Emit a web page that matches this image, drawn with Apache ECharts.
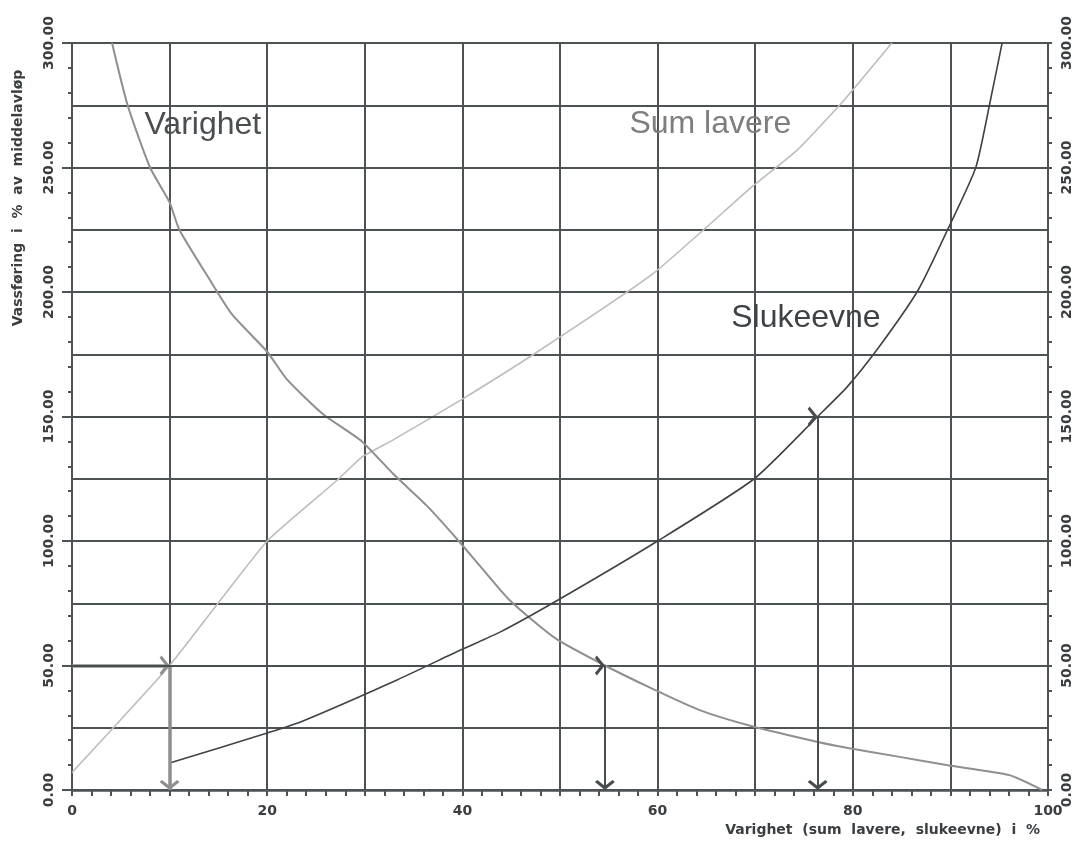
<!DOCTYPE html>
<html>
<head>
<meta charset="utf-8">
<script src="https://cdn.jsdelivr.net/npm/echarts@6/dist/echarts.min.js"></script>
<style>
  html, body { margin: 0; padding: 0; background: #fff; }
  #chart { width: 1078px; height: 844px; }
</style>
</head>
<body>
<div id="chart"></div>
<script>
// Duration curve (Varighet), accumulated flow (Sum lavere) and capacity (Slukeevne)
const varighetX = [4.1, 5.7, 8.0, 10.0, 11.0, 14.1, 16.4, 20.0, 22.0, 25.7, 29.7, 32.9, 36.4, 39.4, 41.8, 44.9, 49.5, 54.6, 59.5, 64.3, 69.6, 76.3, 79.5, 84.8, 89.6, 96.0, 99.4];
const varighetY = [300, 275, 250, 236, 225, 205, 191, 176, 165, 151, 140, 127, 114, 101, 90, 76, 61, 50, 40.6, 32.1, 25.7, 19.4, 16.9, 13.3, 10, 6, 0];

const sumLavereX = [0, 10, 20, 27.2, 29.7, 32.9, 40, 47.5, 59.6, 69.6, 74.3, 79.1, 84];
const sumLavereY = [7, 50, 100, 124.5, 133.7, 140.6, 157, 175.5, 207.6, 242, 257, 277, 300];

const slukeevneX = [10.0, 20.0, 23.4, 33.3, 39.8, 43.9, 49.8, 60.0, 69.9, 76.4, 79.4, 82.7, 86.7, 89.7, 92.6, 94.1, 95.3];
const slukeevneY = [10.8, 22.9, 27.3, 44.2, 56.2, 63.5, 76.3, 100, 125, 150, 161.8, 178, 200.8, 224.9, 250, 277, 300];

// Reading guides: flow level -> duration
const guideX = [10, 54.6, 76.4];
const guideY = [50, 50, 150];
const guideColor = ['#8e8e8e', '#474c4f', '#474c4f'];
const guideWidth = [3.5, 2, 2];

// Curve captions
const captionText = ['Varighet', 'Sum lavere', 'Slukeevne'];
const captionX = [13.4, 65.4, 75.2];
const captionY = [267, 267.5, 189.6];
const captionColor = ['#4a4e51', '#7e7e7e', '#3e4245'];

const xName = 'Varighet  (sum  lavere,  slukeevne)  i  %';
const yName = 'Vassføring  i  %  av  middelavløp';

const gridColor = '#4d5255';

const zip = (xs, ys) => xs.map((x, i) => [x, ys[i]]);

// open chevron; the leading move-to keeps the tip at the symbol centre
const chevron = 'path://M10,-12.5 M0,10 L10,0 L20,10 L17.6,12.4 L10,4.8 L2.4,12.4 Z';

const guideLines = [];
guideX.forEach((gx, i) => {
  const gy = guideY[i];
  const style = { color: guideColor[i], width: guideWidth[i], opacity: 1, curveness: 0 };
  guideLines.push({ coords: [[0, gy], [gx, gy]], lineStyle: style });
  guideLines.push({ coords: [[gx, gy], [gx, 0]], lineStyle: style });
});

const chart = echarts.init(document.getElementById('chart'), null, { renderer: 'canvas' });

const yLabelBase = {
  rotate: 90,
  color: '#3a3e41',
  fontFamily: 'DejaVu Sans',
  fontWeight: 'bold',
  fontSize: 14,
  formatter: v => v.toFixed(2)
};

chart.setOption({
  animation: false,
  backgroundColor: '#ffffff',
  grid: { left: 72, right: 30, top: 43, bottom: 54, containLabel: false },
  xAxis: [
    {
      type: 'value', min: 0, max: 100, interval: 10,
      axisLine: { show: true, lineStyle: { color: gridColor, width: 2 } },
      axisTick: { show: true, length: 6, lineStyle: { color: gridColor, width: 2 } },
      minorTick: { show: true, splitNumber: 5, length: 6, lineStyle: { color: gridColor, width: 2 } },
      splitLine: { show: true, lineStyle: { color: gridColor, width: 2 } },
      axisLabel: {
        margin: 14, color: '#3a3e41', fontFamily: 'DejaVu Sans', fontWeight: 'bold', fontSize: 14,
        formatter: v => (v % 20 === 0 ? String(v) : '')
      }
    },
    {
      type: 'value', min: 0, max: 100, position: 'top',
      axisLine: { show: true, lineStyle: { color: gridColor, width: 2.5 } },
      axisTick: { show: false }, axisLabel: { show: false }, splitLine: { show: false }
    }
  ],
  yAxis: [
    {
      type: 'value', min: 0, max: 300, interval: 50, position: 'left',
      axisLine: { show: true, lineStyle: { color: gridColor, width: 2 } },
      axisTick: { show: true, length: 10, lineStyle: { color: gridColor, width: 2 } },
      splitLine: { show: true, lineStyle: { color: gridColor, width: 2 } },
      minorTick: { show: false, splitNumber: 2 },
      minorSplitLine: { show: true, lineStyle: { color: gridColor, width: 2 } },
      axisLabel: Object.assign({ margin: 16 }, yLabelBase)
    },
    {
      type: 'value', min: 0, max: 300, interval: 50, position: 'right',
      axisLine: { show: true, lineStyle: { color: gridColor, width: 2 } },
      axisTick: { show: true, length: 8, lineStyle: { color: gridColor, width: 2 } },
      splitLine: { show: false },
      axisLabel: Object.assign({ margin: 12 }, yLabelBase)
    },
    {
      type: 'value', min: 0, max: 300, interval: 10, position: 'left',
      axisLine: { show: false },
      axisTick: { show: true, length: 4, lineStyle: { color: gridColor, width: 2 } },
      axisLabel: { show: false }, splitLine: { show: false }
    },
    {
      type: 'value', min: 0, max: 300, interval: 10, position: 'right',
      axisLine: { show: false },
      axisTick: { show: true, length: 4, lineStyle: { color: gridColor, width: 2 } },
      axisLabel: { show: false }, splitLine: { show: false }
    }
  ],
  series: [
    {
      name: 'Sum lavere', type: 'line', data: zip(sumLavereX, sumLavereY),
      showSymbol: false, symbol: 'none', z: 3, smooth: 0.15,
      lineStyle: { color: '#bdbdbd', width: 1.6 }
    },
    {
      name: 'Varighet', type: 'line', data: zip(varighetX, varighetY),
      showSymbol: false, symbol: 'none', z: 3, smooth: 0.2,
      lineStyle: { color: '#8f8f8f', width: 2 }
    },
    {
      name: 'Slukeevne', type: 'line', data: zip(slukeevneX, slukeevneY),
      showSymbol: false, symbol: 'none', z: 3, smooth: 0.2,
      lineStyle: { color: '#3f4346', width: 1.6 }
    },
    {
      name: 'guides', type: 'lines', coordinateSystem: 'cartesian2d', z: 4,
      symbol: ['none', chevron], symbolSize: [16, 20],
      data: guideLines
    },
    {
      name: 'captions', type: 'scatter', symbolSize: 0, z: 5,
      itemStyle: { opacity: 1 },
      data: captionText.map((t, i) => ({
        value: [captionX[i], captionY[i]],
        label: {
          show: true, position: 'inside', formatter: t, opacity: 1,
          color: captionColor[i], fontFamily: 'Liberation Sans, Arial', fontSize: 32
        }
      })),
      silent: true
    }
  ],
  graphic: [
    {
      type: 'text', x: 1040, y: 830,
      style: { text: xName, align: 'right', verticalAlign: 'middle', fill: '#3a3e41', font: 'bold 14px "DejaVu Sans"' }
    },
    {
      type: 'text', x: 18, y: 198, rotation: Math.PI / 2,
      style: { text: yName, align: 'center', verticalAlign: 'middle', fill: '#3a3e41', font: 'bold 14px "DejaVu Sans"' }
    }
  ]
});
</script>
</body>
</html>
